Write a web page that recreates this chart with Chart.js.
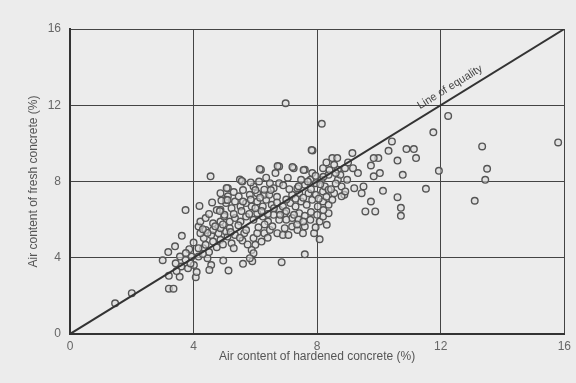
<!DOCTYPE html>
<html>
<head>
<meta charset="utf-8">
<script src="https://cdn.jsdelivr.net/npm/chart.js@4.4.1/dist/chart.umd.min.js"></script>
<style>
  html, body { margin: 0; padding: 0; background: #ececec; }
  #wrap { width: 576px; height: 383px; }
</style>
</head>
<body>
<div id="wrap"><canvas id="airChart" width="576" height="383"></canvas></div>
<script>
// Air content, hardened (x) vs fresh (y) concrete, in percent
var hardenedAir = [
    1.46, 2.0, 3.2, 3.2, 3.35, 3.0, 3.18, 3.4, 3.62, 3.74, 4.55, 4.19, 6.98, 8.15, 7.85, 7.6, 6.85, 5.6, 5.9, 5.13, 4.96, 4.07, 3.55,
    15.8, 13.34, 13.5, 13.44, 13.1, 12.24, 11.76, 11.94, 11.52, 10.89, 11.13, 11.2, 10.42, 10.31, 10.6, 10.77, 10.6, 10.71, 10.71,
    10.13, 10.03, 9.98, 9.83, 9.88, 9.56, 9.74, 9.44, 9.5, 9.74, 9.83, 9.14, 9.16, 9.2, 8.88, 8.49, 8.65, 8.67, 8.97, 9.32,
    3.86, 3.94, 3.74, 4.16, 4.31, 4.45, 4.57, 4.01, 3.6, 3.42, 3.56, 3.82, 4.51,
    4.16, 4.39, 4.63, 4.87, 5.1, 5.34, 4.33, 4.57, 4.81, 5.05, 5.23, 5.58, 5.64, 5.94, 6.0, 5.88, 6.06, 6.29, 4.22, 4.16, 4.39, 4.63,
    4.87, 5.17, 5.94, 5.82,
    4.22, 4.39, 4.63, 4.87, 4.99, 5.17, 5.34, 5.52, 5.7, 5.94, 6.06, 6.24, 6.41, 6.59, 6.77, 6.47, 6.71, 6.89, 7.07, 6.95, 7.19, 7.36,
    7.54, 7.6, 7.78, 8.08, 8.31, 8.19, 8.37, 7.9, 8.08, 7.19, 7.42, 6.95, 6.77,
    4.87, 5.05, 5.23, 5.34, 5.52, 5.7, 5.88, 6.06, 6.24, 6.35, 6.53, 5.11, 5.46, 5.82, 6.06, 6.29, 6.89, 7.13, 7.3, 7.48, 7.66, 7.84,
    8.02, 8.19, 8.37, 8.49, 7.19, 7.42, 7.72, 7.96, 8.19, 8.55, 8.79,
    5.11, 5.58, 5.94, 6.12, 6.29, 6.47, 6.59, 6.77, 6.65, 6.18, 6.77, 7.24, 7.6, 7.36, 7.6, 7.78, 7.96, 8.14, 8.25, 8.37, 8.37, 8.67,
    8.79, 8.91, 7.48, 7.84, 8.19, 8.55, 4.87, 5.05,
    4.45, 4.7, 4.95, 5.2, 5.45, 5.7, 5.3, 5.55, 5.8, 6.0, 6.2, 6.4, 5.6, 5.85, 6.15, 6.45, 5.3, 5.6, 5.85, 6.0, 6.5, 6.35, 5.5,
    4.5, 4.75, 4.6, 4.9, 5.0, 4.3, 4.5, 4.75, 4.95, 5.3, 5.5, 5.75, 6.2, 6.4, 6.1, 6.3, 6.55, 6.6, 6.8, 7.0, 7.0, 7.25, 7.4,
    7.6, 7.8, 8.0, 8.2, 7.35, 7.55, 7.95, 8.05, 8.3, 8.45, 8.6, 8.75, 8.9, 8.4, 8.2, 7.95, 7.7, 7.4, 7.1, 7.0, 7.3, 7.55,
    7.8, 8.1, 8.6, 8.3, 9.0, 7.05, 6.9, 6.7, 6.7, 3.9, 4.3, 4.0, 3.75, 4.1, 3.45,
    6.14, 6.72, 7.2, 7.56, 7.82, 5.56, 5.07, 5.1, 4.85
];
var freshAir = [
    1.61, 2.14, 3.05, 2.38, 2.38, 3.87, 4.3, 4.6, 5.15, 6.5, 8.27, 6.72, 12.1, 11.03, 9.63, 4.18, 3.77, 3.68, 3.82, 3.33, 3.85, 2.98, 3.0,
    10.05, 9.84, 8.67, 8.09, 6.99, 11.44, 10.58, 8.56, 7.62, 9.7, 9.7, 9.23, 10.1, 9.61, 9.1, 8.35, 7.18, 6.62, 6.2,
    7.51, 8.44, 9.23, 9.23, 6.43, 6.43, 6.95, 7.39, 7.74, 8.84, 8.27, 9.49, 8.7, 7.65, 7.3, 9.23, 9.23, 8.62, 8.09, 8.44,
    4.45, 4.06, 3.89, 4.06, 4.5, 3.98, 3.62, 3.62, 3.54, 3.71, 4.06, 3.45, 3.36,
    4.5, 4.68, 4.85, 4.94, 5.11, 5.2, 5.03, 5.2, 5.29, 5.38, 4.76, 4.9, 5.29, 5.03, 4.68, 4.41, 5.29, 5.29, 5.29, 5.64, 5.46, 5.46,
    5.55, 5.55, 4.24, 3.98,
    5.9, 6.08, 5.81, 5.9, 6.16, 5.9, 6.08, 5.9, 6.16, 5.99, 6.34, 6.16, 5.9, 6.25, 5.99, 5.46, 5.29, 5.2, 5.2, 5.55, 5.64, 5.46,
    5.29, 5.64, 5.99, 5.9, 5.73, 6.16, 6.34, 5.29, 4.97, 6.08, 6.34, 6.34, 6.52,
    6.52, 6.87, 6.6, 6.95, 6.69, 6.87, 6.69, 6.95, 6.69, 7.04, 6.78, 7.22, 7.22, 7.3, 7.39, 7.3, 6.69, 6.87, 6.69, 6.95, 6.78, 7.04,
    6.69, 6.95, 6.78, 7.04, 7.3, 7.39, 7.39, 7.3, 7.48, 7.39, 7.22,
    7.65, 8.0, 7.74, 8.0, 7.57, 7.91, 7.65, 7.91, 8.44, 8.62, 8.79, 8.7, 8.62, 7.65, 7.83, 8.09, 7.91, 8.09, 7.74, 8.35, 7.57, 8.09,
    7.74, 7.48, 8.09, 8.44, 8.7, 8.88, 7.39, 7.04,
    5.3, 5.65, 5.75, 5.35, 5.7, 5.45, 6.3, 6.45, 6.3, 6.6, 6.45, 6.3, 6.95, 7.05, 7.15, 7.3, 7.45, 7.55, 7.95, 7.55, 7.55, 8.2, 8.1,
    6.3, 6.5, 6.9, 7.0, 6.25, 5.5, 4.3, 4.55, 4.7, 4.5, 5.05, 4.7, 4.85, 5.05, 5.6, 5.75, 5.65, 6.6, 6.25, 6.0, 6.45, 6.25, 6.0,
    6.2, 6.4, 6.25, 6.5, 5.75, 5.9, 5.6, 7.1, 7.2, 7.6, 7.9, 8.35, 8.7, 8.6, 8.25, 8.3, 8.0, 7.75, 7.6, 7.05, 7.1, 7.15,
    7.6, 7.85, 8.45, 9.0, 9.0, 8.2, 7.8, 7.2, 6.9, 3.7, 4.2, 4.8, 4.25, 3.25, 3.3,
    8.66, 8.81, 8.76, 8.6, 9.65, 8.03, 7.66, 7.03, 6.45
];
var axisTicks = [0, 4, 8, 12, 16];
var equalityLine = [0, 16];

var points = hardenedAir.map(function(x, i) { return {x: x, y: freshAir[i]}; });

// label written along the 1:1 line
var equalityLabel = {
    id: 'equalityLabel',
    afterDatasetsDraw: function(chart) {
        var xs = chart.scales.x, ys = chart.scales.y;
        var px = xs.getPixelForValue(12.3), py = ys.getPixelForValue(12.95);
        var ang = Math.atan2(ys.getPixelForValue(16) - ys.getPixelForValue(0), xs.getPixelForValue(16) - xs.getPixelForValue(0));
        var ctx = chart.ctx;
        ctx.save();
        ctx.translate(px, py);
        ctx.rotate(ang);
        ctx.font = '11px "Liberation Sans", Arial, sans-serif';
        ctx.fillStyle = '#444';
        ctx.textAlign = 'center';
        ctx.textBaseline = 'middle';
        ctx.fillText('Line of equality', 0, 0);
        ctx.restore();
    }
};

var ctx = document.getElementById('airChart').getContext('2d');
new Chart(ctx, {
    type: 'scatter',
    data: {
        datasets: [{
            data: equalityLine.map(function(v) { return {x: v, y: v}; }),
            showLine: true,
            borderColor: '#333',
            borderWidth: 2,
            pointRadius: 0
        }, {
            data: points,
            pointRadius: 3.3,
            pointBorderWidth: 1.4,
            pointBorderColor: '#555',
            pointBackgroundColor: 'rgba(220,220,220,0.6)'
        }]
    },
    options: {
        responsive: false,
        animation: false,
        layout: { padding: { top: 29, right: 11, left: 0, bottom: 0 } },
        plugins: { legend: { display: false }, tooltip: { enabled: false } },
        scales: {
            x: {
                min: 0, max: 16,
                afterBuildTicks: function(s) { s.ticks = axisTicks.map(function(v) { return {value: v}; }); },
                afterFit: function(s) { s.height = 49; },
                grid: { color: '#444', lineWidth: 1, drawTicks: false },
                border: { color: '#333', width: 2 },
                ticks: { color: '#666', padding: 5, font: { size: 12, family: '"Liberation Sans", Arial, sans-serif' } },
                title: { display: true, text: 'Air content of hardened concrete (%)', color: '#555', padding: { top: 2, bottom: 19 },
                         font: { size: 12, family: '"Liberation Sans", Arial, sans-serif' } }
            },
            y: {
                min: 0, max: 16,
                afterBuildTicks: function(s) { s.ticks = axisTicks.map(function(v) { return {value: v}; }); },
                afterFit: function(s) { s.width = 70; },
                grid: { color: '#444', lineWidth: 1, drawTicks: false },
                border: { color: '#333', width: 2 },
                ticks: { color: '#666', padding: 9, font: { size: 12, family: '"Liberation Sans", Arial, sans-serif' } },
                title: { display: true, text: 'Air content of fresh concrete (%)', color: '#555', padding: { top: 26, bottom: 4 },
                         font: { size: 12, family: '"Liberation Sans", Arial, sans-serif' } }
            }
        }
    },
    plugins: [equalityLabel]
});
</script>
</body>
</html>
